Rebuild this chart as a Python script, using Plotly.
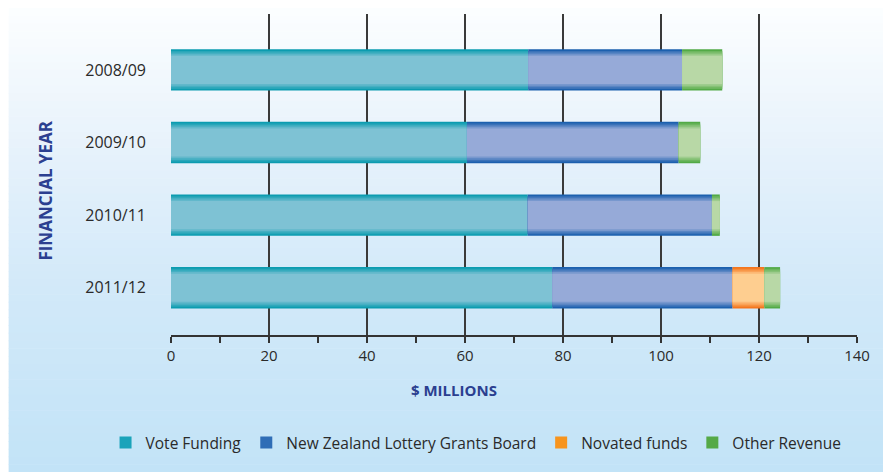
import plotly.graph_objects as go
import numpy as np

# ---- data ----
years = ["2008/09", "2009/10", "2010/11", "2011/12"]
vote_funding = [72.9, 60.4, 72.8, 77.8]
lottery_grants = [31.4, 43.2, 37.6, 36.8]
novated_funds = [0.0, 0.0, 0.0, 6.5]
other_revenue = [8.2, 4.4, 1.6, 3.2]

series_names = ["Vote Funding", "New Zealand Lottery Grants Board", "Novated funds", "Other Revenue"]
series_values = [vote_funding, lottery_grants, novated_funds, other_revenue]
legend_colors = ["#1aa3ba", "#2f6db6", "#f7941d", "#55a947"]
edge_colors = [(12, 156, 176), (28, 96, 174), (244, 118, 30), (82, 170, 70)]
mid_colors = [(126, 194, 212), (150, 170, 216), (254, 206, 144), (184, 216, 166)]

x_ticks = [0, 20, 40, 60, 80, 100, 120, 140]
grid_ticks = [0, 20, 40, 60, 80, 100, 120]

FONT = "Open Sans, Liberation Sans, Arial, sans-serif"
BAR_W = 0.57

fig = go.Figure()

# stacked bars drawn as layered overlays to imitate the cylindrical shading
bases = np.zeros(len(years))
layers = [1.0, 0.92, 0.84, 0.76, 0.68]
for name, vals, lc, ec, mc in zip(series_names, series_values, legend_colors, edge_colors, mid_colors):
    vals = np.array(vals, dtype=float)
    for i, f in enumerate(layers):
        t = i / (len(layers) - 1)
        col = "rgb(%d,%d,%d)" % tuple(int(round(ec[k] + (mc[k] - ec[k]) * t)) for k in range(3))
        fig.add_trace(go.Bar(
            y=years, x=vals, base=bases.copy(), orientation="h",
            width=BAR_W * f,
            marker=dict(color=col, line=dict(width=0)),
            name=name, legendgroup=name, showlegend=False,
            hoverinfo="skip" if i > 0 else None,
        ))
    # legend proxy
    fig.add_trace(go.Bar(
        y=[None], x=[None], orientation="h", name=name, legendgroup=name,
        marker=dict(color=lc, line=dict(width=0)), showlegend=True,
    ))
    bases = bases + vals

# page body has an 8px margin, so figure coords = page coords - 8
OFF = 8
W, H = 891 - OFF, 475 - OFF
L, T = 170.5 - OFF, 14 - OFF
R = W - (857 - OFF)
B = H - (335 - OFF)
pw, ph = W - L - R, H - T - B
def px2x(px): return (px - OFF - L) / pw
def py2y(py): return (H - B - (py - OFF)) / ph

stops = [(0.0, (252, 254, 255)), (0.3, (231, 242, 251)), (0.6, (210, 233, 249)), (1.0, (194, 227, 247))]
def grad(t):
    for (a, ca), (b, cb) in zip(stops[:-1], stops[1:]):
        if a <= t <= b:
            u = (t - a) / (b - a)
            return tuple(int(round(ca[k] + (cb[k] - ca[k]) * u)) for k in range(3))
    return stops[-1][1]

shapes = []
N = 60
top_px, bot_px = 8, 472
for i in range(N):
    y0p = top_px + (bot_px - top_px) * i / N
    y1p = top_px + (bot_px - top_px) * (i + 1) / N + 0.6
    c = grad((i + 0.5) / N)
    shapes.append(dict(type="rect", xref="paper", yref="paper",
                       x0=px2x(8), x1=px2x(900), y0=py2y(min(y1p, bot_px)), y1=py2y(y0p),
                       fillcolor="rgb(%d,%d,%d)" % c, line=dict(width=0), layer="below"))

fig.update_layout(
    width=W, height=H,
    margin=dict(l=L, r=R, t=T, b=B),
    paper_bgcolor="white", plot_bgcolor="rgba(0,0,0,0)",
    barmode="overlay",
    shapes=shapes,
    font=dict(family=FONT, color="#2a2a2a"),
    showlegend=True,
    legend=dict(orientation="h", x=px2x(105), y=py2y(443), xanchor="left", yanchor="middle",
                font=dict(family=FONT, size=15.5, color="#2a2a2a"), bgcolor="rgba(0,0,0,0)",
                traceorder="normal", itemsizing="constant"),
    xaxis=dict(range=[0, 140], tickvals=x_ticks, ticktext=[str(v) for v in x_ticks],
               showgrid=False, zeroline=False,
               showline=True, linecolor="#333333", linewidth=2,
               ticks="outside", ticklen=6, tickwidth=1.5, tickcolor="#333333",
               minor=dict(ticks="outside", dtick=10, ticklen=6, tickwidth=1.5, tickcolor="#333333"),
               tickfont=dict(family=FONT, size=15, color="#2a2a2a"), fixedrange=True),
    xaxis2=dict(range=[0, 140], overlaying="x", side="bottom", tickvals=grid_ticks,
                showticklabels=False, ticks="", showgrid=True, gridcolor="#3a3a3a", gridwidth=1.6,
                zeroline=False, showline=False, matches="x"),
    yaxis=dict(type="category", categoryorder="array", categoryarray=years,
               range=[3.65, -0.77], showgrid=False, zeroline=False, showline=False,
               ticks="", ticklabelstandoff=24,
               tickfont=dict(family=FONT, size=16, color="#2a2a2a")),
    annotations=[
        dict(text="FINANCIAL YEAR", textangle=-90, xref="paper", yref="paper",
             x=px2x(45), y=py2y(191), xanchor="center", yanchor="middle", showarrow=False,
             font=dict(family=FONT, size=17, color="#2b3f90", weight="bold")),
        dict(text="$ MILLIONS", xref="paper", yref="paper",
             x=px2x(454), y=py2y(390), xanchor="center", yanchor="middle", showarrow=False,
             font=dict(family=FONT, size=15, color="#2b3f90", weight="bold")),
    ],
)

# invisible trace to activate xaxis2 gridlines
fig.add_trace(go.Scatter(x=[None], y=[None], xaxis="x2", showlegend=False, hoverinfo="skip"))

fig.write_html("out.html")
